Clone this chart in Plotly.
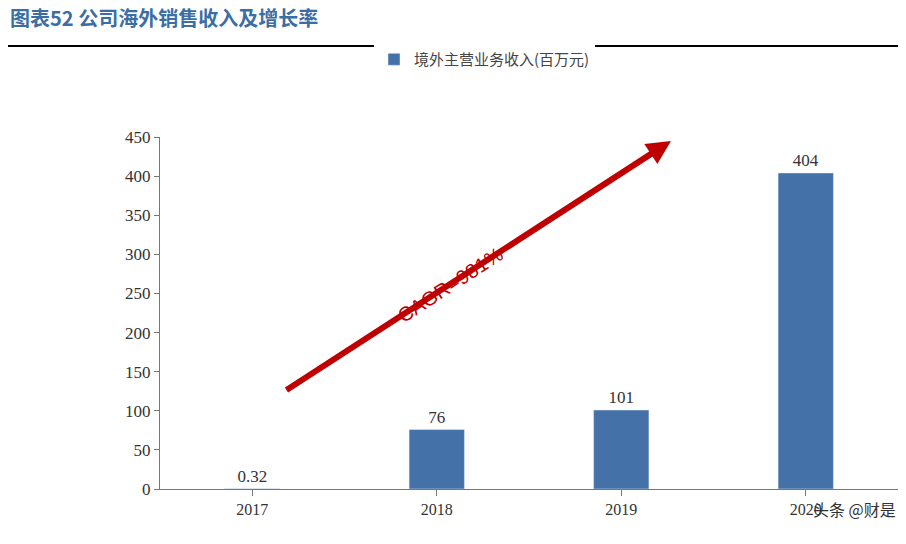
import plotly.graph_objects as go

years = ["2017", "2018", "2019", "2020"]
revenue = [0.32, 76, 101, 404]
labels = ["0.32", "76", "101", "404"]
y_ticks = [0, 50, 100, 150, 200, 250, 300, 350, 400, 450]

fig = go.Figure()
fig.add_trace(go.Bar(x=years, y=revenue, name="境外主营业务收入(百万元)",
                     marker_color="#4472A8", width=0.3,
                     text=labels, textposition="outside",
                     textfont=dict(family="Liberation Serif", size=17, color="#333")))

fig.update_layout(
    width=906, height=544, plot_bgcolor="white", paper_bgcolor="white",
    margin=dict(l=152, r=16, t=129, b=63),
    showlegend=True,
    legend=dict(x=0.29, y=1.22, xanchor="left", yanchor="middle", orientation="h",
                font=dict(family="Noto Sans CJK SC", size=15, color="#444")),
    font=dict(family="Liberation Serif", size=16, color="#333"),
    xaxis=dict(showline=True, linecolor="#777", ticks="outside", ticklen=6,
               tickcolor="#777", tickfont=dict(size=16)),
    yaxis=dict(range=[0, 450], tickvals=y_ticks, showline=True, linecolor="#777",
               ticks="outside", ticklen=5, tickcolor="#777", showgrid=False,
               tickfont=dict(size=17)),
    bargap=0.5,
)
fig.add_annotation(text="<b>图表52 公司海外销售收入及增长率</b>", xref="paper", yref="paper",
                   x=-152/738, y=1.34, xanchor="left", yanchor="middle", showarrow=False,
                   font=dict(family="Noto Sans CJK SC", size=20, color="#3A6EA5"))
fig.add_shape(type="line", xref="paper", yref="paper", x0=-152/738, x1=1.03,
              y0=(481-38)/352, y1=(481-38)/352, line=dict(color="black", width=2))
fig.add_shape(type="line", xref="paper", yref="paper", x0=-152/738, x1=1.03,
              y0=(481-537)/352, y1=(481-537)/352, line=dict(color="black", width=2))
# CAGR arrow
fig.add_annotation(xref="x domain", yref="y domain", x=(663-152)/738, y=(481-133)/352,
                   ax=(277-152)/738, ay=(481-383)/352, axref="x domain", ayref="y domain",
                   showarrow=True, arrowhead=2, arrowsize=0.8, arrowwidth=6,
                   arrowcolor="#C00000", text="")
fig.add_annotation(text="CAGR=981%", xref="paper", yref="paper", x=(442-152)/738,
                   y=(481-232)/352, textangle=-33, showarrow=False,
                   font=dict(family="Liberation Sans", size=20, color="#C00000"))
fig.add_annotation(text="头条 @财是", xref="paper", yref="paper", x=1.0, y=(481-515)/352,
                   xanchor="right", showarrow=False,
                   font=dict(family="Noto Sans CJK SC", size=16, color="#333"))
fig.write_html("out.html")
